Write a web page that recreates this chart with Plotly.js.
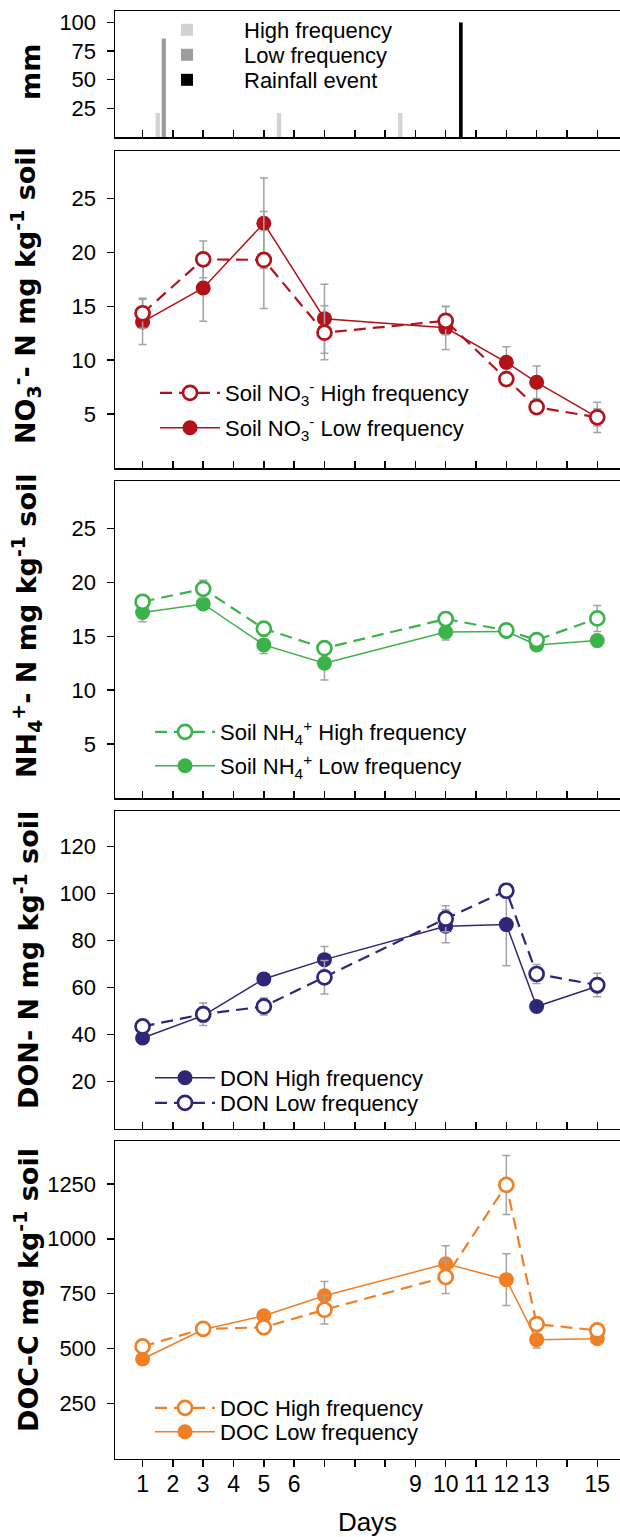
<!DOCTYPE html>
<html><head><meta charset="utf-8">
<script src="https://cdn.plot.ly/plotly-3.0.1.min.js"></script>
<style>html,body{margin:0;padding:0;background:#fff}</style>
</head><body><div id="chart" style="width:620px;height:1537px"></div>
<script>
// ---- data ----
const tickPos  = [0,1,2,3,4,5,6,7,8,9,10,11,12,13,14,15];
const tickText = ["1","2","3","4","5","6","","","","9","10","11","12","13","","15"];
const sampleX  = [0,2,4,6,10,12,13,15];

const rainHighX = [0.5,4.5,8.5];  const rainHighMM = [21,21,21];
const rainLowX  = [0.7];          const rainLowMM  = [86];
const rainEventX = [10.5];        const rainEventMM = [100];

const no3High   = [14.35,19.35,19.3,12.55,13.65,8.25,5.65,4.7];
const no3HighSE = [1.4,1.7,4.5,2.5,1.3,0.6,0.6,1.4];
const no3Low    = [13.55,16.7,22.7,13.85,13.0,9.8,7.95,4.7];
const no3LowSE  = [2.1,3.1,4.2,3.2,2.0,1.45,1.5,0.8];

const nh4High   = [18.2,19.4,15.7,13.9,16.6,15.55,14.65,16.65];
const nh4HighSE = [0.5,0.8,0.5,0.5,0.5,0.4,0.4,1.2];
const nh4Low    = [17.2,18.0,14.2,12.5,15.4,15.45,14.2,14.6];
const nh4LowSE  = [0.85,0.5,0.8,1.55,0.75,0.4,0.4,0.5];

const donHigh   = [38.5,48.0,63.6,71.8,86.0,86.7,51.9,60.5];
const donHighSE = [1.5,2,2,5.6,7,17.5,2,2];
const donLow    = [43.4,48.6,51.9,64.3,89.2,101.1,65.7,61.0];
const donLowSE  = [2,4.8,3.6,7.1,5.5,3,4,5];

const docHigh   = [510,590,597,677,826,1245,612,583];
const docHighSE = [20,15,20,65,75,134,20,20];
const docLow    = [453,587,650,741,886,814,541,545];
const docLowSE  = [20,15,20,65,82,118,38,15];

// ---- styling ----
const H = 1537;
const FONT = "Liberation Sans, Arial, sans-serif";
const TFONT = "DejaVu Sans, Liberation Sans, sans-serif";
const col = {no3:'#b3121b', nh4:'#3bb34a', don:'#2c2877', doc:'#f17f25', err:'#a3a3a3'};
const dom = (top, bottom) => [1 - bottom/H, 1 - top/H];

function series(x, y, se, color, open, xa, ya, name, legend) {
  return {
    type:'scatter', mode:'lines+markers', x:x, y:y, name:name,
    xaxis:xa, yaxis:ya, legend:legend,
    line:{color:color, width: open ? 2.2 : 1.5, dash: open ? '12px,7px' : 'solid'},
    marker:{symbol:'circle', size: open ? 14 : 15, color: open ? '#ffffff' : color,
            line:{color:color, width: open ? 2.7 : 0}},
    error_y:{type:'data', array:se, visible:true, color:col.err, thickness:1.5, width:4},
    hoverinfo:'skip'
  };
}

const traces = [
  {type:'bar', x:rainHighX, y:rainHighMM, width:0.14, name:'High frequency', marker:{color:'#d2d2d2'}, xaxis:'x', yaxis:'y', legend:'legend', hoverinfo:'skip'},
  {type:'bar', x:rainLowX, y:rainLowMM, width:0.14, name:'Low frequency', marker:{color:'#9d9d9d'}, xaxis:'x', yaxis:'y', legend:'legend2', hoverinfo:'skip'},
  {type:'bar', x:rainEventX, y:rainEventMM, width:0.12, name:'Rainfall event', marker:{color:'#000000'}, xaxis:'x', yaxis:'y', legend:'legend3', hoverinfo:'skip'},

  series(sampleX, no3Low, no3LowSE, col.no3, false, 'x2','y2','Soil NO<sub>3</sub><sup>-</sup> Low frequency','legend5'),
  series(sampleX, no3High, no3HighSE, col.no3, true, 'x2','y2','Soil NO<sub>3</sub><sup>-</sup> High frequency','legend4'),

  series(sampleX, nh4Low, nh4LowSE, col.nh4, false, 'x3','y3','Soil NH<sub>4</sub><sup>+</sup> Low frequency','legend7'),
  series(sampleX, nh4High, nh4HighSE, col.nh4, true, 'x3','y3','Soil NH<sub>4</sub><sup>+</sup> High frequency','legend6'),

  series(sampleX, donHigh, donHighSE, col.don, false, 'x4','y4','DON High frequency','legend8'),
  series(sampleX, donLow, donLowSE, col.don, true, 'x4','y4','DON Low frequency','legend9'),

  series(sampleX, docLow, docLowSE, col.doc, false, 'x5','y5','DOC Low frequency','legend11'),
  series(sampleX, docHigh, docHighSE, col.doc, true, 'x5','y5','DOC High frequency','legend10')
];

function xax(anchor, last) {
  return {
    anchor:anchor, range:[-0.91,15.75], domain:[0,1],
    tickmode:'array', tickvals:tickPos, ticktext:tickText,
    showticklabels: !!last, ticks: last ? 'outside' : 'inside', ticklen:7, tickwidth:1.5, tickcolor:'#000',
    ticklabelstandoff: last ? -3 : 0,
    showline:true, linecolor:'#000', linewidth:1.5, mirror:true,
    showgrid:false, zeroline:false, fixedrange:true,
    tickfont:{family:FONT, size:23, color:'#000'},
    title: last ? {text:'Days', font:{family:FONT, size:26, color:'#000'}, standoff:17} : undefined
  };
}
function yax(anchor, domain, range, vals) {
  return {
    anchor:anchor, domain:domain, range:range,
    tickmode:'array', tickvals:vals, ticks:'outside', ticklen:7, tickwidth:1.5, tickcolor:'#000',
    ticklabelstandoff:6,
    showline:true, linecolor:'#000', linewidth:1.5, mirror:false,
    showgrid:false, zeroline:false, fixedrange:true,
    tickfont:{family:FONT, size:22, color:'#000'}
  };
}

const px2x = p => (p - 115)/505;
const py2y = p => 1 - p/H;
function leg(left, rowY, w) {
  return {bgcolor:'rgba(0,0,0,0)', borderwidth:0, xanchor:'left', yanchor:'middle', xref:'paper', yref:'paper',
          x:px2x(left), y:py2y(rowY), itemwidth:w,
          font:{family:FONT, size:22, color:'#000'}, itemclick:false, itemdoubleclick:false};
}

const layout = {
  width:620, height:H, margin:{l:115, r:0, t:0, b:0},
  paper_bgcolor:'#fff', plot_bgcolor:'#fff', barmode:'overlay', showlegend:true,
  font:{family:FONT, color:'#000'},
  xaxis: xax('y'), xaxis2: xax('y2'), xaxis3: xax('y3'), xaxis4: xax('y4'), xaxis5: xax('y5', true),
  yaxis:  yax('x',  dom(11,137),    [0,110],   [25,50,75,100]),
  yaxis2: yax('x2', dom(151,468),   [0,29.4],  [5,10,15,20,25]),
  yaxis3: yax('x3', dom(481,798),   [0,29.4],  [5,10,15,20,25]),
  yaxis4: yax('x4', dom(811,1128.5),[0,135],   [20,40,60,80,100,120]),
  yaxis5: yax('x5', dom(1141,1458.5),[0,1445], [250,500,750,1000,1250]),
  legend:   leg(130, 30, 104),
  legend2:  leg(130, 55, 104),
  legend3:  leg(130, 80, 104),
  legend4:  leg(155, 393, 60),
  legend5:  leg(155, 428, 60),
  legend6:  leg(150, 732, 60),
  legend7:  leg(150, 766, 60),
  legend8:  leg(150, 1078, 60),
  legend9:  leg(150, 1103, 60),
  legend10: leg(150, 1408, 60),
  legend11: leg(150, 1432, 60),
  annotations: [
    {text:'<b>mm</b>', x:px2x(30), y:py2y(72)},
    {text:'<b>NO<sub>3</sub><sup>-</sup>- N mg kg<sup>-1</sup> soil</b>', x:px2x(26), y:py2y(296)},
    {text:'<b>NH<sub>4</sub><sup>+</sup>- N mg kg<sup>-1</sup> soil</b>', x:px2x(26), y:py2y(626)},
    {text:'<b>DON- N mg kg<sup>-1</sup> soil</b>', x:px2x(26), y:py2y(960)},
    {text:'<b>DOC-C mg kg<sup>-1</sup> soil</b>', x:px2x(26), y:py2y(1290)}
  ].map(a => Object.assign({xref:'paper', yref:'paper', textangle:-90, showarrow:false,
        xanchor:'center', yanchor:'middle', font:{family:TFONT, size:27, color:'#000'}}, a))
};

Plotly.newPlot('chart', traces, layout, {staticPlot:true, displayModeBar:false});
</script>
</body></html>
